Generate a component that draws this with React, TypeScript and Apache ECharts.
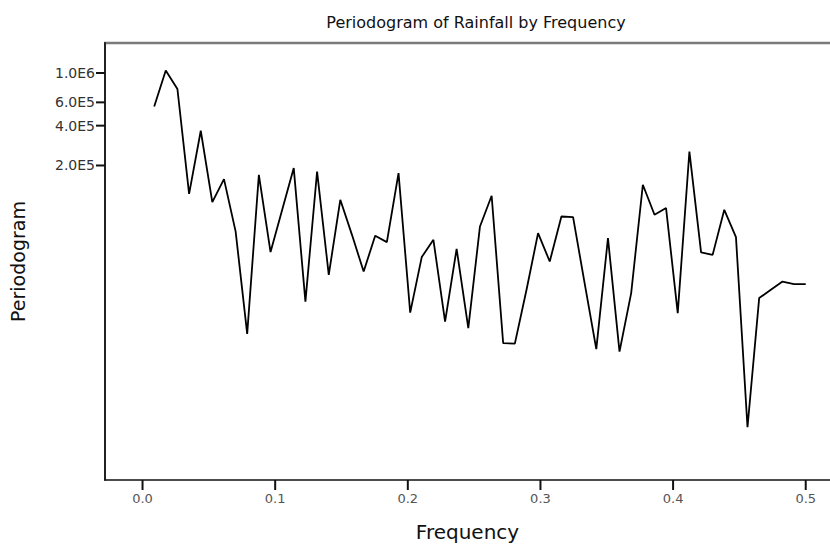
import React, { useEffect, useRef } from "react";
import * as echarts from "echarts";

const frequencies = [
  0.0088, 0.0175, 0.0263, 0.0351, 0.0439, 0.0526, 0.0614, 0.0702, 0.0789, 0.0877,
  0.0965, 0.1053, 0.114, 0.1228, 0.1316, 0.1404, 0.1491, 0.1579, 0.1667, 0.1754,
  0.1842, 0.193, 0.2018, 0.2105, 0.2193, 0.2281, 0.2368, 0.2456, 0.2544, 0.2632,
  0.2719, 0.2807, 0.2895, 0.2982, 0.307, 0.3158, 0.3246, 0.3333, 0.3421, 0.3509,
  0.3596, 0.3684, 0.3772, 0.386, 0.3947, 0.4035, 0.4123, 0.4211, 0.4298, 0.4386,
  0.4474, 0.4561, 0.4649, 0.4737, 0.4825, 0.4912, 0.5,
];

const periodogram = [
  5.59e5, 1.046e6, 7.57e5, 1.222e5, 3.66e5, 1.057e5, 1.578e5, 6.33e4, 1.067e4, 1.7e5,
  4.43e4, 9.25e4, 1.911e5, 1.872e4, 1.8e5, 2.98e4, 1.1e5, 5.98e4, 3.16e4, 5.88e4,
  5.27e4, 1.752e5, 1.545e4, 4.06e4, 5.48e4, 1.321e4, 4.69e4, 1.178e4, 6.92e4, 1.18e5,
  9.07e3, 9.0e3, 2.3e4, 6.16e4, 3.76e4, 8.23e4, 8.14e4, 2.58e4, 8.17e3, 5.65e4,
  7.83e3, 2.17e4, 1.43e5, 8.48e4, 9.53e4, 1.53e4, 2.55e5, 4.4e4, 4.22e4, 9.25e4,
  5.75e4, 2.1e3, 1.99e4, 2.3e4, 2.65e4, 2.54e4, 2.54e4,
];

const xTicks = [0, 0.1, 0.2, 0.3, 0.4, 0.5];
const yTicks = [2e5, 4e5, 6e5, 1e6];

const X_MIN = -0.0283;
const X_MAX = 0.5183;
const Y_MIN = 838.8;
const Y_MAX = 1.686e6;

const FONT = "'DejaVu Sans', 'Liberation Sans', Arial, sans-serif";

function sci(v: number): string {
  const e = Math.floor(Math.log10(v) + 1e-9);
  const m = v / Math.pow(10, e);
  return m.toFixed(1) + "E" + e;
}

export default function App() {
  const ref = useRef<HTMLDivElement>(null);
  useEffect(() => {
    if (!ref.current) return;
    const chart = echarts.init(ref.current, null, { renderer: "svg" });
    const gridLeft = 105;
    const gridTop = 43;
    const gridBottomY = 480;
    chart.setOption({
      animation: false,
      backgroundColor: "#ffffff",
      title: {
        text: "Periodogram of Rainfall by Frequency",
        left: 471,
        top: 9,
        textAlign: "center",
        textStyle: { fontFamily: FONT, fontSize: 16, fontWeight: "normal", color: "#111" },
      },
      grid: { left: gridLeft, top: gridTop, right: 0, bottom: 547 - gridBottomY, containLabel: false },
      xAxis: {
        type: "value",
        min: X_MIN,
        max: X_MAX,
        name: "Frequency",
        nameLocation: "middle",
        nameGap: 42,
        nameTextStyle: { fontFamily: FONT, fontSize: 20, color: "#111" },
        splitLine: { show: false },
        axisLine: { show: true, onZero: false, lineStyle: { color: "#111", width: 1.5 } },
        axisTick: { show: false },
        axisLabel: {
          show: true,
          customValues: xTicks,
          formatter: (v: number) => v.toFixed(1),
          fontFamily: FONT,
          fontSize: 13,
          color: "#555",
          margin: 12,
        },
      },
      yAxis: {
        type: "log",
        min: Y_MIN,
        max: Y_MAX,
        name: "Periodogram",
        nameLocation: "middle",
        nameGap: 78,
        nameRotate: 90,
        nameTextStyle: { fontFamily: FONT, fontSize: 19, color: "#111" },
        splitLine: { show: false },
        axisLine: { show: true, onZero: false, lineStyle: { color: "#222", width: 2 } },
        axisTick: { show: false },
        axisLabel: {
          show: true,
          customValues: yTicks,
          formatter: (v: number) => sci(v),
          fontFamily: FONT,
          fontSize: 14,
          color: "#333",
          margin: 10,
        },
      },
      series: [
        {
          type: "line",
          data: frequencies.map((f, i) => [f, periodogram[i]]),
          showSymbol: false,
          symbol: "none",
          lineStyle: { color: "#000", width: 1.8 },
          clip: true,
          z: 3,
        },
      ],
    });

    // Frame top and tick marks positioned through the axes' own scales.
    const graphics: any[] = [
      {
        type: "line",
        shape: { x1: gridLeft - 1, y1: gridTop, x2: 830, y2: gridTop },
        style: { stroke: "#7a7a7a", lineWidth: 2.5 },
      },
    ];
    xTicks.forEach((v) => {
      const px = Number(chart.convertToPixel({ xAxisIndex: 0 }, v));
      if (!isFinite(px)) return;
      graphics.push({
        type: "rect",
        z: 100,
        shape: { x: px - 1, y: gridBottomY, width: 2, height: 10 },
        style: { fill: "#111" },
      });
    });
    yTicks.forEach((v) => {
      const py = Number(chart.convertToPixel({ yAxisIndex: 0 }, v));
      if (!isFinite(py)) return;
      graphics.push({
        type: "rect",
        z: 100,
        shape: { x: gridLeft - 9, y: py - 1, width: 9, height: 2 },
        style: { fill: "#111" },
      });
    });
    chart.setOption({ graphic: graphics });

    return () => chart.dispose();
  }, []);
  return <div ref={ref} style={{ width: 830, height: 547, position: "absolute", left: 0, top: 0 }} />;
}
